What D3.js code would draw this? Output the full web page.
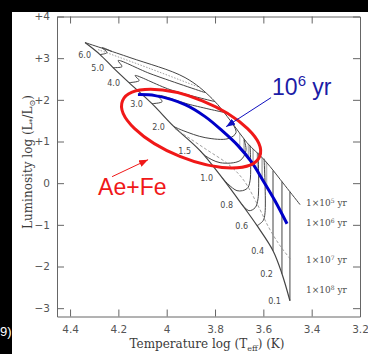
<!DOCTYPE html>
<html>
<head>
<meta charset="utf-8">
<script src="https://cdn.jsdelivr.net/npm/d3@7"></script>
<style>
  html, body { margin: 0; padding: 0; background: #000; }
  svg { display: block; }
</style>
</head>
<body>
<div id="chart"></div>
<script>
// values: [log Teff, log L/Lsun]
const xTicks = [4.4, 4.2, 4, 3.8, 3.6, 3.4, 3.2];
const xTickLabels = ["4.4", "4.2", "4", "3.8", "3.6", "3.4", "3.2"];
const yTicks = [4, 3, 2, 1, 0, -1, -2, -3];
const yTickLabels = ["+4", "+3", "+2", "+1", "0", "\u22121", "\u22122", "\u22123"];

const birthline = [[4.338, 3.374], [4.152, 3.014], [3.924, 2.534], [3.812, 2.029], [3.730, 1.453],
  [3.668, 0.973], [3.593, 0.540], [3.510, -0.060], [3.448, -0.516]];

const zams = [[4.338, 3.374], [4.276, 3.086], [4.222, 2.774], [4.156, 2.413], [4.061, 1.909],
  [3.970, 1.357], [3.862, 0.780], [3.771, 0.132], [3.688, -0.516], [3.626, -1.021],
  [3.560, -1.621], [3.523, -2.173], [3.490, -2.822]];

const masses = ["6.0", "5.0", "4.0", "3.0", "2.0", "1.5", "1.0", "0.8", "0.6", "0.4", "0.2", "0.1"];
const tracks = [
  [[4.226, 3.158], [4.268, 3.254], [4.247, 3.134], [4.276, 3.086]],
  [[3.841, 2.173], [4.069, 2.630], [4.201, 2.942], [4.185, 2.798], [4.222, 2.774]],
  [[3.800, 1.957], [3.986, 2.245], [4.131, 2.582], [4.114, 2.462], [4.156, 2.413]],
  [[3.759, 1.693], [3.903, 1.885], [4.036, 2.101], [4.019, 1.957], [4.061, 1.909]],
  [[3.730, 1.453], [3.713, 1.213], [3.746, 1.069], [3.841, 1.093], [3.932, 1.261], [3.970, 1.357]],
  [[3.680, 1.045], [3.672, 0.780], [3.697, 0.540], [3.779, 0.492], [3.841, 0.660], [3.862, 0.780]],
  [[3.655, 0.901], [3.655, 0.060], [3.668, -0.132], [3.709, -0.180], [3.771, 0.132]],
  [[3.622, 0.732], [3.622, -0.372], [3.634, -0.588], [3.659, -0.660], [3.688, -0.516]],
  [[3.597, 0.588], [3.593, -0.708], [3.601, -0.901], [3.626, -1.021]],
  [[3.560, 0.300], [3.560, -1.621]],
  [[3.523, 0.036], [3.523, -2.173]],
  [[3.490, -0.204], [3.490, -2.822]]
];

// 10^6 yr isochrone (drawn in blue), 10^7 yr (dashed), upper dotted isochrone
const iso6 = [[4.119, 2.125], [4.048, 2.101], [3.924, 1.885], [3.841, 1.597], [3.771, 1.261],
  [3.705, 0.901], [3.647, 0.492], [3.601, 0.060], [3.552, -0.420], [3.502, -0.973]];
const iso7 = [[3.966, 1.309], [3.841, 0.828], [3.738, 0.420], [3.680, 0.060], [3.622, -0.540],
  [3.577, -1.069], [3.531, -1.501], [3.486, -1.837]];
const isoUpper = [[4.284, 3.206], [4.069, 2.750], [3.862, 2.293]];

const isoExp = ["5", "6", "7", "8"];
const isoLabelL = [-0.47, -0.95, -1.84, -2.56];

const width = 368, height = 354;
const svg = d3.select("#chart").append("svg")
  .attr("width", width)
  .attr("height", height);

svg.append("rect").attr("width", width).attr("height", height).attr("fill", "#000");
svg.append("rect").attr("x", 12).attr("y", 12)
  .attr("width", width - 12).attr("height", height - 12).attr("fill", "#fff");

const x = d3.scaleLinear().domain([4.454, 3.2]).range([57, 360]);
const y = d3.scaleLinear().domain([-3.2, 4]).range([316.5, 16.5]);

const line = d3.line()
  .x(d => x(d[0]))
  .y(d => y(d[1]))
  .curve(d3.curveCatmullRom);

const gray = "#444";
const tickFont = "'DejaVu Sans', sans-serif";
const serif = "'DejaVu Serif', serif";

// axes (inward ticks, frame made of the domain paths)
function styleAxis(g) {
  g.selectAll("path, line").attr("stroke", "#666");
  g.selectAll("text").attr("fill", "#555").style("font-family", tickFont).style("font-size", "10.5px");
}

svg.append("g")
  .attr("transform", `translate(0,${y(-3.2)})`)
  .call(d3.axisBottom(x).tickValues(xTicks).tickFormat((d, i) => xTickLabels[i])
    .tickSize(-7).tickSizeOuter(0).tickPadding(9))
  .call(styleAxis);

svg.append("g")
  .attr("transform", `translate(0,${y(4)})`)
  .call(d3.axisTop(x).tickValues(xTicks.slice(0, 6)).tickFormat("").tickSize(-7).tickSizeOuter(0))
  .call(styleAxis);

svg.append("g")
  .attr("transform", `translate(${x(4.454)},0)`)
  .call(d3.axisLeft(y).tickValues(yTicks).tickFormat((d, i) => yTickLabels[i])
    .tickSize(-7).tickSizeOuter(0).tickPadding(7))
  .call(styleAxis);

svg.append("g")
  .attr("transform", `translate(${x(3.2)},0)`)
  .call(d3.axisRight(y).tickValues(yTicks).tickFormat("").tickSize(-7).tickSizeOuter(0))
  .call(styleAxis);

// axis titles
const xTitle = svg.append("text")
  .attr("x", 207).attr("y", 348)
  .attr("text-anchor", "middle")
  .attr("fill", "#3a3a3a")
  .style("font-family", serif).style("font-size", "12px");
xTitle.append("tspan").text("Temperature log (T");
xTitle.append("tspan").attr("dy", 3).style("font-size", "8px").text("eff");
xTitle.append("tspan").attr("dy", -3).text(") (K)");

const yTitle = svg.append("text")
  .attr("transform", "translate(32,162) rotate(-90)")
  .attr("text-anchor", "middle")
  .attr("fill", "#3a3a3a")
  .style("font-family", serif).style("font-size", "12px");
yTitle.append("tspan").text("Luminosity log (L");
yTitle.append("tspan").attr("dy", 3).style("font-size", "8px").text("*");
yTitle.append("tspan").attr("dy", -3).text("/L");
yTitle.append("tspan").attr("dy", 3).style("font-size", "8px").text("\u2299");
yTitle.append("tspan").attr("dy", -3).text(")");

// hatched zone between birthline and the 10^6 yr isochrone
const defs = svg.append("defs");
defs.append("pattern")
  .attr("id", "hatch")
  .attr("patternUnits", "userSpaceOnUse")
  .attr("width", 4.5).attr("height", 10)
  .append("line")
  .attr("x1", 1).attr("y1", 0).attr("x2", 1).attr("y2", 10)
  .attr("stroke", "#666").attr("stroke-width", 0.8);
defs.append("clipPath").attr("id", "hatch-clip")
  .append("rect")
  .attr("x", x(3.70)).attr("y", 0)
  .attr("width", x(3.575) - x(3.70)).attr("height", height);

svg.append("path")
  .attr("d", line(birthline.concat(iso6.slice().reverse())))
  .attr("fill", "url(#hatch)")
  .attr("clip-path", "url(#hatch-clip)");

// tracks
const trackG = svg.append("g").attr("fill", "none").attr("stroke", gray).attr("stroke-width", 1);
trackG.selectAll(".track")
  .data(tracks)
  .join("path")
  .attr("class", "track")
  .attr("d", d => line(d));

trackG.append("path").attr("d", line(birthline));
trackG.append("path").attr("d", line(zams)).attr("stroke-width", 1.2);

svg.append("path")
  .attr("d", line(iso7))
  .attr("fill", "none").attr("stroke", "#888").attr("stroke-width", 0.8)
  .attr("stroke-dasharray", "3,2");
svg.append("path")
  .attr("d", line(isoUpper))
  .attr("fill", "none").attr("stroke", "#888").attr("stroke-width", 0.8)
  .attr("stroke-dasharray", "1.5,1.5");

// mass labels at the end of each track
svg.selectAll(".mass")
  .data(tracks)
  .join("text")
  .attr("class", "mass")
  .attr("x", d => x(d[d.length - 1][0]) - 9)
  .attr("y", d => y(d[d.length - 1][1]) + 3)
  .attr("text-anchor", "end")
  .attr("fill", "#4a4a4a")
  .style("font-family", tickFont).style("font-size", "8px")
  .text((d, i) => masses[i]);

// isochrone labels
const isoText = svg.selectAll(".iso")
  .data(isoExp)
  .join("text")
  .attr("class", "iso")
  .attr("x", 306)
  .attr("y", (d, i) => y(isoLabelL[i]) + 3)
  .attr("fill", "#4a4a4a")
  .style("font-family", serif).style("font-size", "9px");
isoText.append("tspan").text("1\u00d710");
isoText.append("tspan").attr("dy", -3).style("font-size", "6px").text(d => d);
isoText.append("tspan").attr("dy", 3).text(" yr");

// blue 10^6 yr curve
svg.append("path")
  .attr("d", line(iso6))
  .attr("fill", "none").attr("stroke", "#0000c8").attr("stroke-width", 3);

// red ellipse around Ae/Fe region
const ellC = [3.899, 1.309];
svg.append("ellipse")
  .attr("cx", x(ellC[0])).attr("cy", y(ellC[1]))
  .attr("rx", 74).attr("ry", 30)
  .attr("transform", `rotate(22,${x(ellC[0])},${y(ellC[1])})`)
  .attr("fill", "none").attr("stroke", "#f01818").attr("stroke-width", 3);

// arrows
function marker(id, color) {
  defs.append("marker")
    .attr("id", id)
    .attr("markerUnits", "userSpaceOnUse")
    .attr("markerWidth", 9).attr("markerHeight", 7)
    .attr("refX", 9).attr("refY", 3.5)
    .attr("orient", "auto")
    .append("path").attr("d", "M0,0L9,3.5L0,7z").attr("fill", color);
}
marker("head-red", "#f01818");
marker("head-blue", "#1010c0");

svg.append("line")
  .attr("x1", x(4.226)).attr("y1", y(0.156))
  .attr("x2", x(4.077)).attr("y2", y(0.564))
  .attr("stroke", "#f01818").attr("stroke-width", 1)
  .attr("marker-end", "url(#head-red)");

svg.append("line")
  .attr("x1", x(3.568)).attr("y1", y(2.053))
  .attr("x2", x(3.754)).attr("y2", y(1.357))
  .attr("stroke", "#1010c0").attr("stroke-width", 1)
  .attr("marker-end", "url(#head-blue)");

// annotations
svg.append("text")
  .attr("x", x(4.284)).attr("y", y(-0.276))
  .attr("fill", "#f01818")
  .style("font-family", "'Liberation Sans', Arial, sans-serif").style("font-size", "23px")
  .text("Ae+Fe");

const ageText = svg.append("text")
  .attr("x", x(3.564)).attr("y", y(2.125))
  .attr("fill", "#1c1ca6")
  .style("font-family", "'Liberation Sans', Arial, sans-serif").style("font-size", "23px");
ageText.append("tspan").text("10");
ageText.append("tspan").attr("dy", -9).style("font-size", "15px").text("6");
ageText.append("tspan").attr("dy", 9).text(" yr");

svg.append("text")
  .attr("x", 0).attr("y", 336)
  .attr("fill", "#fff")
  .style("font-family", "'Liberation Sans', Arial, sans-serif").style("font-size", "13px")
  .text("9)");
</script>
</body>
</html>
